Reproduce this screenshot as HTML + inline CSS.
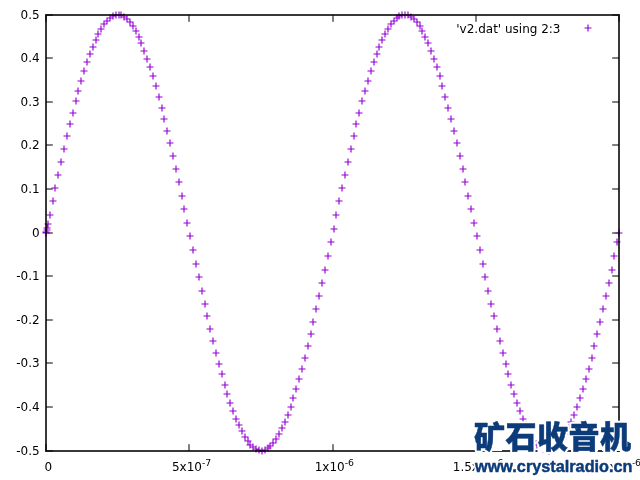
<!DOCTYPE html>
<html lang="zh">
<head>
<meta charset="utf-8">
<title>'v2.dat' using 2:3</title>
<style>
html,body{margin:0;padding:0;background:#fff;}
body{width:640px;height:480px;overflow:hidden;position:relative;}
svg{display:block;position:absolute;left:0;top:0;will-change:transform;opacity:0.9999;}
.ax text{font-family:"DejaVu Sans","Liberation Sans",sans-serif;font-size:12px;fill:#000;}
.ax .sup{font-size:9.3px;}
.wm{font-family:"Liberation Sans","Noto Sans CJK SC",sans-serif;font-weight:900;stroke-linejoin:round;}
.wm2{font-family:"Liberation Sans","Noto Sans CJK SC",sans-serif;font-weight:700;stroke-linejoin:round;}
.halo text{fill:#fff;stroke:#fff;}
.halo .wm{stroke-width:4.6px;}
.halo .wm2{stroke-width:3.6px;}
.ink text{fill:#0c3b7a;stroke:#0c3b7a;}
.ink .wm{stroke-width:0.5px;}
.ink .wm2{stroke-width:0.45px;}
</style>
</head>
<body>
<svg width="640" height="480" viewBox="0 0 640 480">
<rect x="0" y="0" width="640" height="480" fill="#fff"/>
<g class="ax">
<path d="M46.0 15.00h6.8M619.0 15.00h-6.8M46.0 58.00h6.8M619.0 58.00h-6.8M46.0 102.00h6.8M619.0 102.00h-6.8M46.0 145.00h6.8M619.0 145.00h-6.8M46.0 189.00h6.8M619.0 189.00h-6.8M46.0 233.00h6.8M619.0 233.00h-6.8M46.0 276.00h6.8M619.0 276.00h-6.8M46.0 320.00h6.8M619.0 320.00h-6.8M46.0 363.00h6.8M619.0 363.00h-6.8M46.0 407.00h6.8M619.0 407.00h-6.8M46.0 451.00h6.8M619.0 451.00h-6.8M46.00 451.0v-6.8M46.00 15.0v6.8M189.00 451.0v-6.8M189.00 15.0v6.8M333.00 451.0v-6.8M333.00 15.0v6.8M476.00 451.0v-6.8M476.00 15.0v6.8M619.00 451.0v-6.8M619.00 15.0v6.8" stroke="#000" stroke-width="1" fill="none"/>
<text x="39.6" y="19.20" text-anchor="end">0.5</text>
<text x="39.6" y="62.20" text-anchor="end">0.4</text>
<text x="39.6" y="106.20" text-anchor="end">0.3</text>
<text x="39.6" y="149.20" text-anchor="end">0.2</text>
<text x="39.6" y="193.20" text-anchor="end">0.1</text>
<text x="39.6" y="237.20" text-anchor="end">0</text>
<text x="39.6" y="280.20" text-anchor="end">-0.1</text>
<text x="39.6" y="324.20" text-anchor="end">-0.2</text>
<text x="39.6" y="367.20" text-anchor="end">-0.3</text>
<text x="39.6" y="411.20" text-anchor="end">-0.4</text>
<text x="39.6" y="455.20" text-anchor="end">-0.5</text>
<text x="48.25" y="470.7" text-anchor="middle">0</text>
<text x="191.55" y="470.7" text-anchor="middle">5x10<tspan class="sup" dy="-4.8">-7</tspan></text>
<text x="334.30" y="470.7" text-anchor="middle">1x10<tspan class="sup" dy="-4.8">-6</tspan></text>
<text x="478.15" y="470.7" text-anchor="middle">1.5x10<tspan class="sup" dy="-4.8">-6</tspan></text>
<text x="621.40" y="470.7" text-anchor="middle">2x10<tspan class="sup" dy="-4.8">-6</tspan></text>
<text x="560.5" y="33.1" text-anchor="end">'v2.dat' using 2:3</text>
<path d="M42.50 233.00h7.0M46.00 229.50v7.0M42.50 232.00h7.0M46.00 228.50v7.0M42.50 232.00h7.0M46.00 228.50v7.0M42.50 232.00h7.0M46.00 228.50v7.0M42.50 232.00h7.0M46.00 228.50v7.0M43.50 230.00h7.0M47.00 226.50v7.0M43.50 228.00h7.0M47.00 224.50v7.0M44.50 224.00h7.0M48.00 220.50v7.0M46.50 215.00h7.0M50.00 211.50v7.0M49.50 201.00h7.0M53.00 197.50v7.0M51.50 188.00h7.0M55.00 184.50v7.0M54.50 175.00h7.0M58.00 171.50v7.0M57.50 162.00h7.0M61.00 158.50v7.0M60.50 149.00h7.0M64.00 145.50v7.0M63.50 136.00h7.0M67.00 132.50v7.0M66.50 124.00h7.0M70.00 120.50v7.0M69.50 113.00h7.0M73.00 109.50v7.0M72.50 101.00h7.0M76.00 97.50v7.0M74.50 91.00h7.0M78.00 87.50v7.0M77.50 81.00h7.0M81.00 77.50v7.0M80.50 71.00h7.0M84.00 67.50v7.0M83.50 62.00h7.0M87.00 58.50v7.0M86.50 54.00h7.0M90.00 50.50v7.0M89.50 47.00h7.0M93.00 43.50v7.0M92.50 40.00h7.0M96.00 36.50v7.0M94.50 34.00h7.0M98.00 30.50v7.0M97.50 29.00h7.0M101.00 25.50v7.0M100.50 24.00h7.0M104.00 20.50v7.0M103.50 21.00h7.0M107.00 17.50v7.0M106.50 18.00h7.0M110.00 14.50v7.0M109.50 16.00h7.0M113.00 12.50v7.0M112.50 15.00h7.0M116.00 11.50v7.0M115.50 15.00h7.0M119.00 11.50v7.0M117.50 15.00h7.0M121.00 11.50v7.0M120.50 17.00h7.0M124.00 13.50v7.0M123.50 19.00h7.0M127.00 15.50v7.0M126.50 22.00h7.0M130.00 18.50v7.0M129.50 26.00h7.0M133.00 22.50v7.0M132.50 31.00h7.0M136.00 27.50v7.0M135.50 37.00h7.0M139.00 33.50v7.0M137.50 43.00h7.0M141.00 39.50v7.0M140.50 51.00h7.0M144.00 47.50v7.0M143.50 59.00h7.0M147.00 55.50v7.0M146.50 67.00h7.0M150.00 63.50v7.0M149.50 76.00h7.0M153.00 72.50v7.0M152.50 86.00h7.0M156.00 82.50v7.0M155.50 97.00h7.0M159.00 93.50v7.0M158.50 108.00h7.0M162.00 104.50v7.0M160.50 119.00h7.0M164.00 115.50v7.0M163.50 131.00h7.0M167.00 127.50v7.0M166.50 143.00h7.0M170.00 139.50v7.0M169.50 156.00h7.0M173.00 152.50v7.0M172.50 169.00h7.0M176.00 165.50v7.0M175.50 182.00h7.0M179.00 178.50v7.0M178.50 196.00h7.0M182.00 192.50v7.0M180.50 209.00h7.0M184.00 205.50v7.0M183.50 223.00h7.0M187.00 219.50v7.0M186.50 236.00h7.0M190.00 232.50v7.0M189.50 250.00h7.0M193.00 246.50v7.0M192.50 264.00h7.0M196.00 260.50v7.0M195.50 277.00h7.0M199.00 273.50v7.0M198.50 291.00h7.0M202.00 287.50v7.0M201.50 304.00h7.0M205.00 300.50v7.0M203.50 316.00h7.0M207.00 312.50v7.0M206.50 329.00h7.0M210.00 325.50v7.0M209.50 341.00h7.0M213.00 337.50v7.0M212.50 353.00h7.0M216.00 349.50v7.0M215.50 364.00h7.0M219.00 360.50v7.0M218.50 374.00h7.0M222.00 370.50v7.0M221.50 385.00h7.0M225.00 381.50v7.0M223.50 394.00h7.0M227.00 390.50v7.0M226.50 403.00h7.0M230.00 399.50v7.0M229.50 411.00h7.0M233.00 407.50v7.0M232.50 419.00h7.0M236.00 415.50v7.0M235.50 425.00h7.0M239.00 421.50v7.0M238.50 431.00h7.0M242.00 427.50v7.0M241.50 437.00h7.0M245.00 433.50v7.0M244.50 441.00h7.0M248.00 437.50v7.0M246.50 445.00h7.0M250.00 441.50v7.0M249.50 447.00h7.0M253.00 443.50v7.0M252.50 449.00h7.0M256.00 445.50v7.0M255.50 450.00h7.0M259.00 446.50v7.0M258.50 451.00h7.0M262.00 447.50v7.0M261.50 450.00h7.0M265.00 446.50v7.0M264.50 448.00h7.0M268.00 444.50v7.0M266.50 446.00h7.0M270.00 442.50v7.0M269.50 443.00h7.0M273.00 439.50v7.0M272.50 439.00h7.0M276.00 435.50v7.0M275.50 434.00h7.0M279.00 430.50v7.0M278.50 428.00h7.0M282.00 424.50v7.0M281.50 422.00h7.0M285.00 418.50v7.0M284.50 415.00h7.0M288.00 411.50v7.0M287.50 407.00h7.0M291.00 403.50v7.0M289.50 398.00h7.0M293.00 394.50v7.0M292.50 389.00h7.0M296.00 385.50v7.0M295.50 379.00h7.0M299.00 375.50v7.0M298.50 369.00h7.0M302.00 365.50v7.0M301.50 358.00h7.0M305.00 354.50v7.0M304.50 346.00h7.0M308.00 342.50v7.0M307.50 334.00h7.0M311.00 330.50v7.0M309.50 322.00h7.0M313.00 318.50v7.0M312.50 309.00h7.0M316.00 305.50v7.0M315.50 296.00h7.0M319.00 292.50v7.0M318.50 283.00h7.0M322.00 279.50v7.0M321.50 270.00h7.0M325.00 266.50v7.0M324.50 256.00h7.0M328.00 252.50v7.0M327.50 242.00h7.0M331.00 238.50v7.0M330.50 229.00h7.0M334.00 225.50v7.0M332.50 215.00h7.0M336.00 211.50v7.0M335.50 201.00h7.0M339.00 197.50v7.0M338.50 188.00h7.0M342.00 184.50v7.0M341.50 175.00h7.0M345.00 171.50v7.0M344.50 162.00h7.0M348.00 158.50v7.0M347.50 149.00h7.0M351.00 145.50v7.0M350.50 136.00h7.0M354.00 132.50v7.0M352.50 124.00h7.0M356.00 120.50v7.0M355.50 113.00h7.0M359.00 109.50v7.0M358.50 101.00h7.0M362.00 97.50v7.0M361.50 91.00h7.0M365.00 87.50v7.0M364.50 81.00h7.0M368.00 77.50v7.0M367.50 71.00h7.0M371.00 67.50v7.0M370.50 62.00h7.0M374.00 58.50v7.0M373.50 54.00h7.0M377.00 50.50v7.0M375.50 47.00h7.0M379.00 43.50v7.0M378.50 40.00h7.0M382.00 36.50v7.0M381.50 34.00h7.0M385.00 30.50v7.0M384.50 29.00h7.0M388.00 25.50v7.0M387.50 24.00h7.0M391.00 20.50v7.0M390.50 21.00h7.0M394.00 17.50v7.0M393.50 18.00h7.0M397.00 14.50v7.0M395.50 16.00h7.0M399.00 12.50v7.0M398.50 15.00h7.0M402.00 11.50v7.0M401.50 15.00h7.0M405.00 11.50v7.0M404.50 15.00h7.0M408.00 11.50v7.0M407.50 17.00h7.0M411.00 13.50v7.0M410.50 19.00h7.0M414.00 15.50v7.0M413.50 22.00h7.0M417.00 18.50v7.0M416.50 26.00h7.0M420.00 22.50v7.0M418.50 31.00h7.0M422.00 27.50v7.0M421.50 37.00h7.0M425.00 33.50v7.0M424.50 43.00h7.0M428.00 39.50v7.0M427.50 51.00h7.0M431.00 47.50v7.0M430.50 59.00h7.0M434.00 55.50v7.0M433.50 67.00h7.0M437.00 63.50v7.0M436.50 76.00h7.0M440.00 72.50v7.0M438.50 86.00h7.0M442.00 82.50v7.0M441.50 97.00h7.0M445.00 93.50v7.0M444.50 108.00h7.0M448.00 104.50v7.0M447.50 119.00h7.0M451.00 115.50v7.0M450.50 131.00h7.0M454.00 127.50v7.0M453.50 143.00h7.0M457.00 139.50v7.0M456.50 156.00h7.0M460.00 152.50v7.0M459.50 169.00h7.0M463.00 165.50v7.0M461.50 182.00h7.0M465.00 178.50v7.0M464.50 196.00h7.0M468.00 192.50v7.0M467.50 209.00h7.0M471.00 205.50v7.0M470.50 223.00h7.0M474.00 219.50v7.0M473.50 236.00h7.0M477.00 232.50v7.0M476.50 250.00h7.0M480.00 246.50v7.0M479.50 264.00h7.0M483.00 260.50v7.0M481.50 277.00h7.0M485.00 273.50v7.0M484.50 291.00h7.0M488.00 287.50v7.0M487.50 304.00h7.0M491.00 300.50v7.0M490.50 316.00h7.0M494.00 312.50v7.0M493.50 329.00h7.0M497.00 325.50v7.0M496.50 341.00h7.0M500.00 337.50v7.0M499.50 353.00h7.0M503.00 349.50v7.0M502.50 364.00h7.0M506.00 360.50v7.0M504.50 374.00h7.0M508.00 370.50v7.0M507.50 385.00h7.0M511.00 381.50v7.0M510.50 394.00h7.0M514.00 390.50v7.0M513.50 403.00h7.0M517.00 399.50v7.0M516.50 411.00h7.0M520.00 407.50v7.0M519.50 419.00h7.0M523.00 415.50v7.0M522.50 425.00h7.0M526.00 421.50v7.0M524.50 431.00h7.0M528.00 427.50v7.0M527.50 437.00h7.0M531.00 433.50v7.0M530.50 441.00h7.0M534.00 437.50v7.0M533.50 445.00h7.0M537.00 441.50v7.0M536.50 447.00h7.0M540.00 443.50v7.0M539.50 449.00h7.0M543.00 445.50v7.0M542.50 450.00h7.0M546.00 446.50v7.0M545.50 451.00h7.0M549.00 447.50v7.0M547.50 450.00h7.0M551.00 446.50v7.0M550.50 448.00h7.0M554.00 444.50v7.0M553.50 446.00h7.0M557.00 442.50v7.0M556.50 443.00h7.0M560.00 439.50v7.0M559.50 439.00h7.0M563.00 435.50v7.0M562.50 434.00h7.0M566.00 430.50v7.0M565.50 428.00h7.0M569.00 424.50v7.0M567.50 422.00h7.0M571.00 418.50v7.0M570.50 415.00h7.0M574.00 411.50v7.0M573.50 407.00h7.0M577.00 403.50v7.0M576.50 398.00h7.0M580.00 394.50v7.0M579.50 389.00h7.0M583.00 385.50v7.0M582.50 379.00h7.0M586.00 375.50v7.0M585.50 369.00h7.0M589.00 365.50v7.0M588.50 358.00h7.0M592.00 354.50v7.0M590.50 346.00h7.0M594.00 342.50v7.0M593.50 334.00h7.0M597.00 330.50v7.0M596.50 322.00h7.0M600.00 318.50v7.0M599.50 309.00h7.0M603.00 305.50v7.0M602.50 296.00h7.0M606.00 292.50v7.0M605.50 283.00h7.0M609.00 279.50v7.0M608.50 270.00h7.0M612.00 266.50v7.0M610.50 256.00h7.0M614.00 252.50v7.0M613.50 242.00h7.0M617.00 238.50v7.0M615.50 233.00h7.0M619.00 229.50v7.0M584.50 28.00h7.0M588.00 24.50v7.0" stroke="#9400d3" stroke-width="1.15" fill="none"/>
<rect x="46.0" y="15.0" width="573.0" height="436.0" fill="none" stroke="#000" stroke-opacity="0.78" stroke-width="2"/>
</g>
<path d="M508 424h24v26h-24zM537.5 423h29v29.2h-29zM571 423h27v28.6h-27zM476 424h26v27h-26zM602 424h27v27h-27z" fill="#fff"/>
<g class="halo">
<text class="wm" x="474" y="448.2" font-size="31" textLength="157" lengthAdjust="spacing">矿石收音机</text>
<text class="wm2" x="475" y="472.1" font-size="16.6" textLength="157.5" lengthAdjust="spacingAndGlyphs">www.crystalradio.cn</text>
</g>
<g class="ink">
<text class="wm" x="474" y="448.2" font-size="31" textLength="157" lengthAdjust="spacing">矿石收音机</text>
<text class="wm2" x="475" y="472.1" font-size="16.6" textLength="157.5" lengthAdjust="spacingAndGlyphs">www.crystalradio.cn</text>
</g>
</svg>
</body>
</html>
